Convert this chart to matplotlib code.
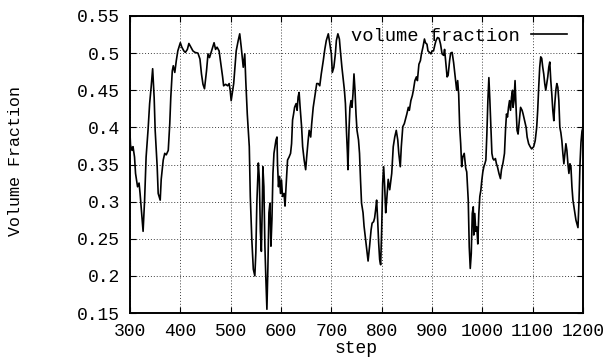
import matplotlib
matplotlib.use("Agg")
import matplotlib.pyplot as plt

steps = [300, 301, 304, 306, 309, 311, 315, 318, 320, 323, 326, 329, 332, 336, 339, 342, 345, 348, 350, 354,
         356, 360, 362, 366, 369, 372, 376, 379, 381, 384, 386, 389, 392, 395, 400, 403, 407, 410, 414, 417,
         421, 425, 429, 435, 439, 442, 445, 448, 452, 455, 458, 462, 465, 467, 470, 473, 477, 480, 484, 486,
         490, 494, 497, 499, 501, 503, 506, 509, 511, 515, 518, 521, 525, 528, 530, 533, 537, 539, 542, 545,
         548, 550, 552, 555, 557, 559, 561, 563, 564, 566, 568, 570, 572, 574, 576, 578, 580, 582, 584, 586,
         588, 590, 592, 593, 595, 597, 599, 601, 603, 606, 608, 610, 613, 616, 619, 621, 623, 625, 627, 630,
         632, 634, 636, 638, 641, 643, 646, 649, 651, 654, 656, 659, 661, 664, 667, 671, 674, 677, 680, 684,
         687, 690, 694, 697, 700, 702, 705, 708, 710, 713, 716, 718, 721, 724, 726, 728, 730, 732, 733, 735,
         737, 739, 741, 743, 745, 747, 749, 751, 754, 756, 758, 760, 763, 765, 768, 771, 773, 776, 779, 781,
         784, 786, 788, 790, 792, 794, 796, 798, 800, 802, 804, 806, 808, 810, 813, 816, 820, 823, 826, 829,
         832, 834, 837, 839, 842, 845, 847, 850, 853, 855, 858, 861, 863, 866, 869, 871, 874, 877, 879, 882,
         885, 887, 890, 892, 895, 898, 900, 903, 906, 908, 911, 914, 917, 920, 923, 925, 927, 930, 932, 935,
         937, 940, 943, 946, 949, 951, 953, 955, 957, 959, 961, 964, 967, 969, 972, 974, 976, 978, 980, 982,
         983, 985, 987, 989, 991, 993, 995, 997, 999, 1001, 1003, 1005, 1007, 1009, 1011, 1013, 1015, 1017, 1019, 1021,
         1023, 1026, 1028, 1030, 1033, 1036, 1038, 1041, 1044, 1046, 1048, 1050, 1052, 1054, 1056, 1058, 1060, 1061, 1063, 1065,
         1067, 1069, 1071, 1073, 1076, 1079, 1081, 1084, 1087, 1089, 1092, 1095, 1098, 1102, 1105, 1108, 1110, 1112, 1114, 1116,
         1118, 1120, 1122, 1124, 1126, 1128, 1130, 1132, 1134, 1136, 1138, 1140, 1142, 1144, 1146, 1148, 1150, 1152, 1154, 1156,
         1158, 1160, 1162, 1164, 1166, 1168, 1170, 1172, 1174, 1176, 1178, 1180, 1182, 1184, 1186, 1188, 1190, 1192, 1194, 1196,
         1198, 1200]

fraction = [0.392, 0.376, 0.369, 0.374, 0.360, 0.338, 0.320, 0.325, 0.311, 0.285, 0.260, 0.302, 0.360, 0.398, 0.432, 0.454, 0.479, 0.440, 0.396, 0.347,
            0.311, 0.302, 0.330, 0.356, 0.365, 0.363, 0.369, 0.405, 0.440, 0.476, 0.483, 0.474, 0.490, 0.503, 0.514, 0.508, 0.503, 0.501, 0.505, 0.513,
            0.508, 0.503, 0.501, 0.500, 0.492, 0.472, 0.458, 0.452, 0.476, 0.499, 0.494, 0.503, 0.510, 0.514, 0.505, 0.508, 0.503, 0.488, 0.468, 0.456,
            0.458, 0.456, 0.459, 0.450, 0.436, 0.445, 0.459, 0.485, 0.503, 0.517, 0.526, 0.508, 0.481, 0.499, 0.463, 0.418, 0.374, 0.307, 0.249, 0.209,
            0.200, 0.231, 0.298, 0.352, 0.330, 0.260, 0.233, 0.302, 0.347, 0.320, 0.240, 0.195, 0.155, 0.213, 0.285, 0.298, 0.240, 0.276, 0.338, 0.365,
            0.374, 0.383, 0.387, 0.352, 0.320, 0.334, 0.311, 0.329, 0.307, 0.311, 0.294, 0.320, 0.356, 0.360, 0.365, 0.378, 0.410, 0.418, 0.427, 0.432,
            0.423, 0.441, 0.447, 0.427, 0.400, 0.374, 0.356, 0.343, 0.360, 0.383, 0.396, 0.387, 0.405, 0.427, 0.441, 0.459, 0.459, 0.456, 0.472, 0.490,
            0.505, 0.517, 0.526, 0.512, 0.499, 0.474, 0.481, 0.499, 0.517, 0.526, 0.519, 0.503, 0.481, 0.463, 0.450, 0.432, 0.396, 0.365, 0.343, 0.396,
            0.427, 0.436, 0.427, 0.445, 0.472, 0.450, 0.418, 0.396, 0.383, 0.365, 0.329, 0.298, 0.285, 0.267, 0.249, 0.231, 0.220, 0.240, 0.262, 0.271,
            0.273, 0.278, 0.289, 0.302, 0.276, 0.245, 0.222, 0.215, 0.262, 0.325, 0.347, 0.320, 0.285, 0.302, 0.330, 0.316, 0.338, 0.374, 0.387, 0.396,
            0.383, 0.365, 0.347, 0.374, 0.401, 0.405, 0.410, 0.418, 0.427, 0.423, 0.436, 0.443, 0.450, 0.463, 0.468, 0.463, 0.485, 0.490, 0.499, 0.508,
            0.519, 0.514, 0.512, 0.503, 0.501, 0.499, 0.503, 0.503, 0.512, 0.517, 0.521, 0.520, 0.512, 0.499, 0.497, 0.505, 0.490, 0.468, 0.470, 0.490,
            0.500, 0.501, 0.487, 0.468, 0.450, 0.463, 0.445, 0.400, 0.378, 0.347, 0.360, 0.365, 0.345, 0.340, 0.302, 0.239, 0.210, 0.230, 0.284, 0.293,
            0.255, 0.284, 0.260, 0.266, 0.243, 0.284, 0.307, 0.315, 0.329, 0.340, 0.347, 0.351, 0.356, 0.391, 0.436, 0.467, 0.436, 0.400, 0.365, 0.358,
            0.356, 0.358, 0.351, 0.347, 0.338, 0.331, 0.343, 0.352, 0.365, 0.396, 0.418, 0.414, 0.427, 0.436, 0.423, 0.441, 0.450, 0.427, 0.436, 0.463,
            0.427, 0.396, 0.391, 0.405, 0.427, 0.423, 0.418, 0.409, 0.400, 0.387, 0.378, 0.374, 0.371, 0.374, 0.382, 0.400, 0.423, 0.454, 0.481, 0.495,
            0.493, 0.481, 0.472, 0.459, 0.450, 0.459, 0.468, 0.481, 0.488, 0.463, 0.445, 0.423, 0.409, 0.432, 0.450, 0.459, 0.454, 0.436, 0.400, 0.393,
            0.382, 0.365, 0.351, 0.365, 0.378, 0.369, 0.351, 0.338, 0.351, 0.347, 0.320, 0.302, 0.293, 0.284, 0.275, 0.270, 0.265, 0.300, 0.350, 0.380,
            0.395, 0.400]

x_ticks = [300, 400, 500, 600, 700, 800, 900, 1000, 1100, 1200]
y_ticks = [0.15, 0.2, 0.25, 0.3, 0.35, 0.4, 0.45, 0.5, 0.55]
y_tick_labels = ["0.15", "0.2", "0.25", "0.3", "0.35", "0.4", "0.45", "0.5", "0.55"]

plt.rcParams['font.family'] = ['Liberation Mono', 'DejaVu Sans Mono']

fig = plt.figure(figsize=(6.06, 3.58), dpi=100)
ax = fig.add_axes([130 / 606, 1 - 313 / 358, 453 / 606, 297 / 358])

ax.plot(steps, fraction, color='black', linewidth=1.2, label='volume fraction')

ax.set_xlim(300, 1200)
ax.set_ylim(0.15, 0.55)
ax.set_xticks(x_ticks)
ax.set_yticks(y_ticks)
ax.set_yticklabels(y_tick_labels)
ax.tick_params(direction='in', length=4, width=0.8, top=True, right=True,
               labelsize=13, colors='black')
ax.tick_params(axis='x', pad=7)
ax.tick_params(axis='y', pad=7)
ax.grid(True, color='0.25', linestyle=(0, (1, 2)), linewidth=0.7)
for sp in ax.spines.values():
    sp.set_linewidth(1.4)

ax.set_xlabel('step', fontsize=13)
ax.xaxis.set_label_coords(0.5, -0.118)
ax.xaxis.label.set_verticalalignment('center')
fig.text(16 / 606, 1 - 161 / 358, 'Volume Fraction', rotation=90, fontsize=12,
         ha='center', va='center')

ax.legend(loc='upper right', bbox_to_anchor=(0.964, 0.96), frameon=False,
          markerfirst=False, fontsize=13.5, handlelength=1.9, handletextpad=0.6,
          borderpad=0, borderaxespad=0)

fig.savefig('out.png', dpi=100)
